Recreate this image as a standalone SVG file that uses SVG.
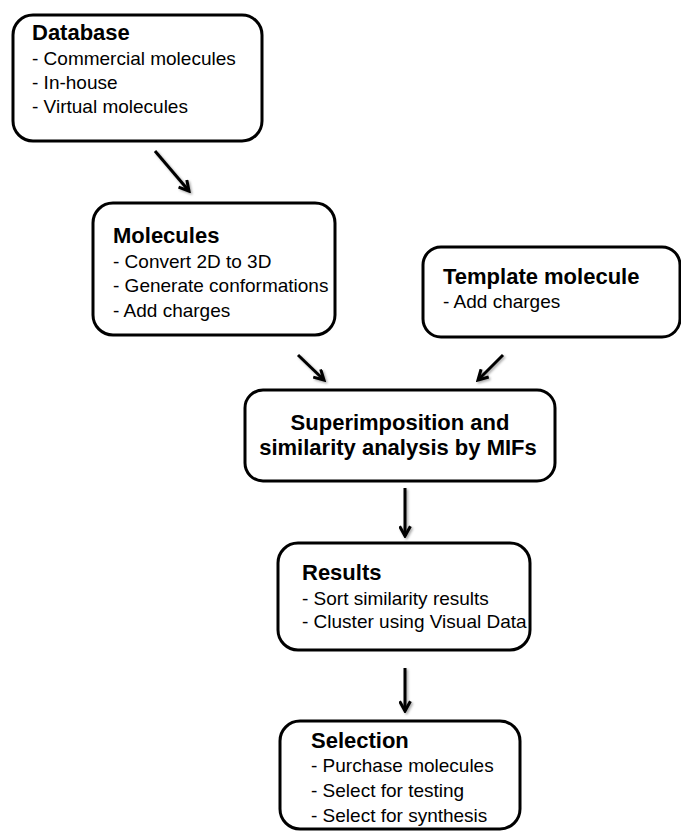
<svg xmlns="http://www.w3.org/2000/svg" width="681" height="832" viewBox="0 0 681 832">
<defs>
<style>
.box{fill:#fff;stroke:#000;stroke-width:3}
.t{font-family:"Liberation Sans",Arial,sans-serif;font-weight:bold;font-size:22px;fill:#000}
.b{font-family:"Liberation Sans",Arial,sans-serif;font-size:19px;fill:#000}
.c{stroke:#000;stroke-width:3;fill:none}
</style>
<filter id="sh" x="-50%" y="-50%" width="200%" height="200%">
<feDropShadow dx="1.5" dy="1.5" stdDeviation="1.2" flood-color="#000" flood-opacity="0.35"/>
</filter>
<marker id="ah" viewBox="0 0 12 12" refX="10" refY="6" markerWidth="13" markerHeight="13" markerUnits="userSpaceOnUse" orient="auto">
<path d="M1,1 L10,6 L1,11" fill="none" stroke="#000" stroke-width="2.8"/>
</marker>
</defs>
<rect width="681" height="832" fill="#fff"/>
<g id="connectors" filter="url(#sh)">
<line class="c" x1="155" y1="151" x2="189" y2="191" marker-end="url(#ah)"/>
<line class="c" x1="298" y1="355" x2="324" y2="380" marker-end="url(#ah)"/>
<line class="c" x1="503" y1="355" x2="478" y2="380" marker-end="url(#ah)"/>
<line class="c" x1="405" y1="488" x2="405" y2="536" marker-end="url(#ah)"/>
<line class="c" x1="405" y1="668" x2="405" y2="711" marker-end="url(#ah)"/>
</g>
<g id="database">
<rect class="box" x="13" y="15" width="249" height="126" rx="20"/>
<text class="t" x="32" y="40">Database</text>
<text class="b" x="32" y="65">- Commercial molecules</text>
<text class="b" x="32" y="89">- In-house</text>
<text class="b" x="32" y="113">- Virtual molecules</text>
</g>
<g id="molecules">
<rect class="box" x="93" y="203" width="242" height="132" rx="20"/>
<text class="t" x="113" y="243">Molecules</text>
<text class="b" x="113" y="268">- Convert 2D to 3D</text>
<text class="b" x="113" y="292">- Generate conformations</text>
<text class="b" x="113" y="317">- Add charges</text>
</g>
<g id="template">
<rect class="box" x="423" y="247" width="257" height="90" rx="18"/>
<text class="t" x="443" y="284">Template molecule</text>
<text class="b" x="443" y="308">- Add charges</text>
</g>
<g id="superimposition">
<rect class="box" x="245" y="390" width="310" height="91" rx="18"/>
<text class="t" x="400" y="430" text-anchor="middle">Superimposition and</text>
<text class="t" x="398" y="455" text-anchor="middle">similarity analysis by MIFs</text>
</g>
<g id="results">
<rect class="box" x="278" y="543" width="252" height="107" rx="20"/>
<text class="t" x="302" y="580">Results</text>
<text class="b" x="302" y="605">- Sort similarity results</text>
<text class="b" x="302" y="628">- Cluster using Visual Data</text>
</g>
<g id="selection">
<rect class="box" x="280" y="721" width="240" height="108" rx="20"/>
<text class="t" x="311" y="748">Selection</text>
<text class="b" x="311" y="772">- Purchase molecules</text>
<text class="b" x="311" y="797">- Select for testing</text>
<text class="b" x="311" y="822">- Select for synthesis</text>
</g>
</svg>
